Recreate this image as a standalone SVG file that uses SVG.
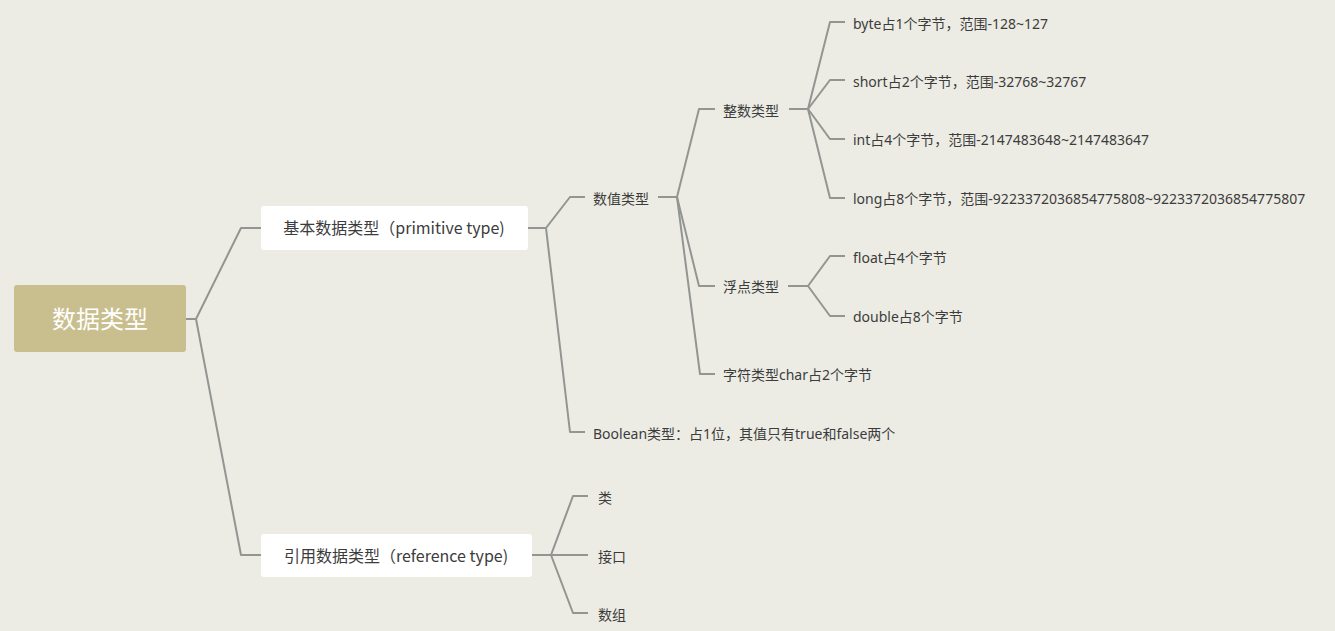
<svg xmlns="http://www.w3.org/2000/svg" width="1335" height="631" viewBox="0 0 1335 631">
<style>
.bg{fill:#ECECE4}
.ln{fill:none;stroke:#929591;stroke-width:2;stroke-linejoin:round}
.t{font-family:"Noto Sans","Noto Sans CJK SC",sans-serif;fill:#3c3c3c}
.t3{font-size:14px}
.t2{font-family:"Noto Sans CJK SC","Noto Sans",sans-serif;font-size:16px;text-anchor:middle}
.box{fill:#FFFFFF}
.root{fill:#C9BE8E}
.rt{font-family:"Noto Sans CJK SC","Noto Sans",sans-serif;font-size:24px;fill:#FFFFFF;text-anchor:middle}
</style>
<rect class="bg" x="0" y="0" width="1335" height="631"/>
<g id="connectors">
<path class="ln" d="M186 319 H196 L241 228 H261"/>
<path class="ln" d="M196 319 L241 555 H261"/>
<path class="ln" d="M528 228 H546 L570 197 H585"/>
<path class="ln" d="M546 228 L570 432 H585"/>
<path class="ln" d="M658 197 H677 L699 109 H715"/>
<path class="ln" d="M677 197 L699 286 H715"/>
<path class="ln" d="M677 197 L700 374 H715"/>
<path class="ln" d="M789 109 H808 L830 22 H845"/>
<path class="ln" d="M808 109 L830 80 H845"/>
<path class="ln" d="M808 109 L830 139 H845"/>
<path class="ln" d="M808 109 L830 198 H845"/>
<path class="ln" d="M788 286 H808 L830 256 H845"/>
<path class="ln" d="M808 286 L830 316 H845"/>
<path class="ln" d="M532 555 H551 L573 496 H588"/>
<path class="ln" d="M551 555 H588"/>
<path class="ln" d="M551 555 L573 613 H588"/>
</g>
<g id="root">
<rect class="root" x="14" y="285" width="172" height="67" rx="3"/>
<text class="rt" x="100" y="328">数据类型</text>
</g>
<g id="primitive">
<rect class="box" x="261" y="206" width="267" height="44" rx="3"/>
<text class="t t2" x="394" y="234">基本数据类型（primitive type)</text>
</g>
<g id="reference">
<rect class="box" x="261" y="534" width="271" height="43" rx="3"/>
<text class="t t2" x="396" y="562">引用数据类型（reference type)</text>
</g>
<g id="numeric"><text class="t t3" x="593" y="204">数值类型</text></g>
<g id="boolean"><text class="t t3" x="593" y="439">Boolean类型：占1位，其值只有true和false两个</text></g>
<g id="integer"><text class="t t3" x="723" y="116">整数类型</text></g>
<g id="float"><text class="t t3" x="723" y="292">浮点类型</text></g>
<g id="char"><text class="t t3" x="723" y="380">字符类型char占2个字节</text></g>
<g id="byte"><text class="t t3" x="853" y="29">byte占1个字节，范围-128~127</text></g>
<g id="short"><text class="t t3" x="853" y="87">short占2个字节，范围-32768~32767</text></g>
<g id="int"><text class="t t3" x="853" y="145">int占4个字节，范围-2147483648~2147483647</text></g>
<g id="long"><text class="t t3" x="853" y="204">long占8个字节，范围-9223372036854775808~9223372036854775807</text></g>
<g id="floatv"><text class="t t3" x="853" y="263">float占4个字节</text></g>
<g id="double"><text class="t t3" x="853" y="322">double占8个字节</text></g>
<g id="class"><text class="t t3" x="598" y="503">类</text></g>
<g id="interface"><text class="t t3" x="598" y="562">接口</text></g>
<g id="array"><text class="t t3" x="598" y="620">数组</text></g>
</svg>
